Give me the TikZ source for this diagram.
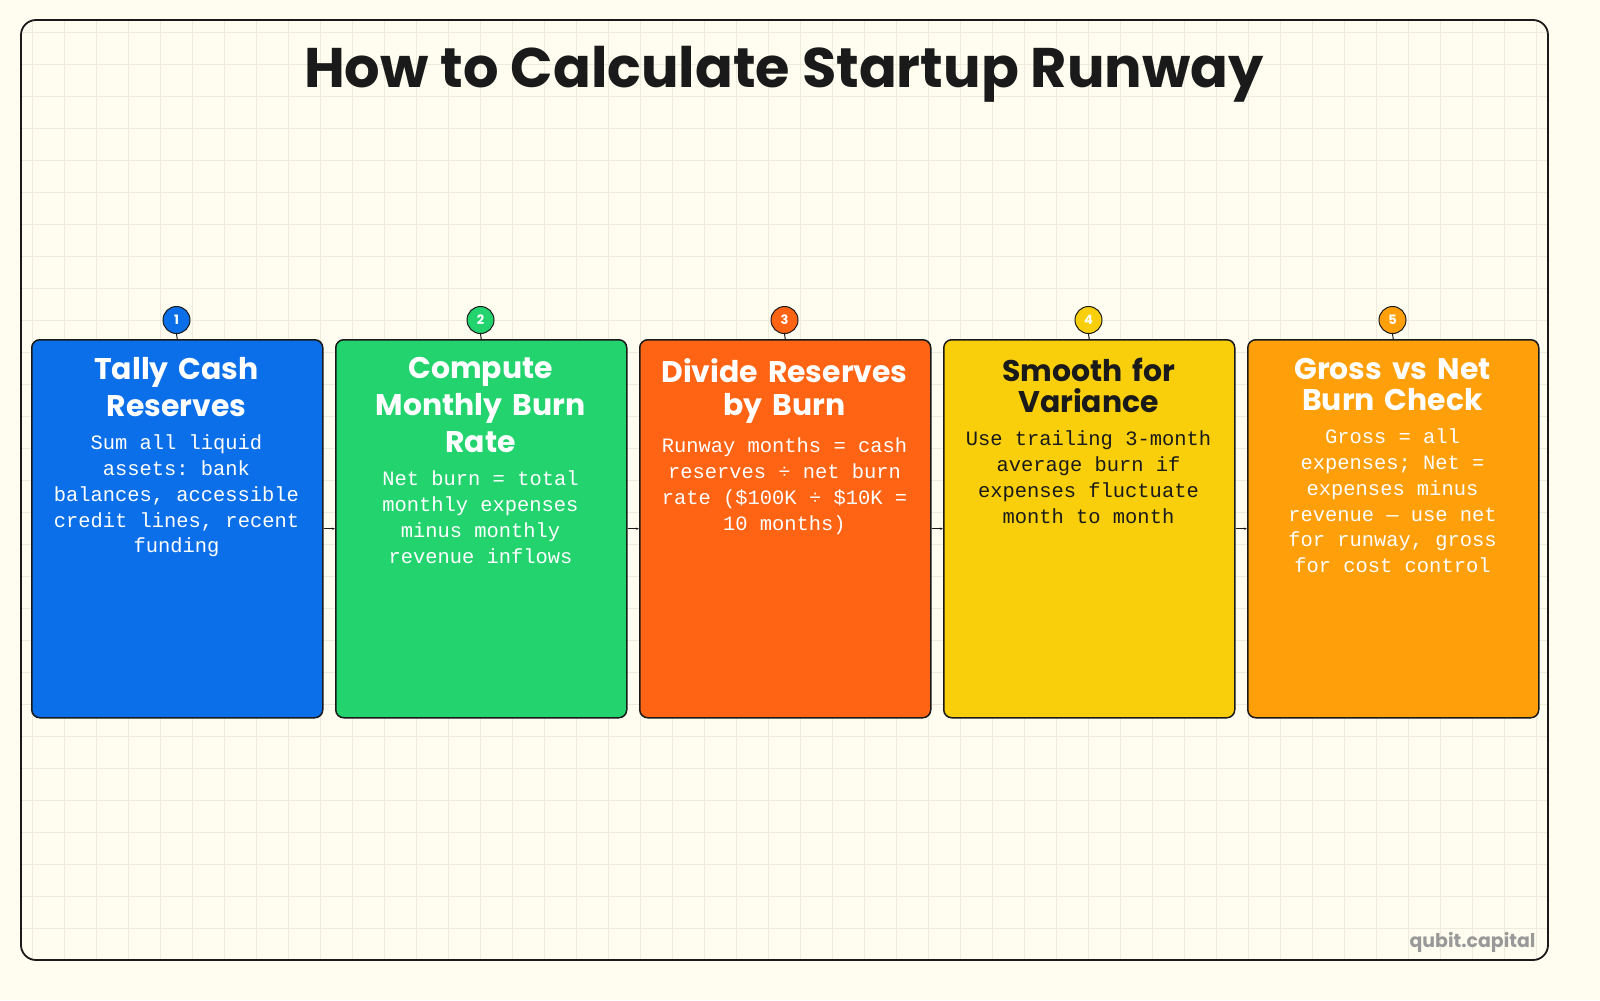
\documentclass[tikz,border=0pt]{standalone}
\usepackage{fontspec}
\setmainfont{Poppins}
\newfontfamily\monof{Liberation Mono}
\hyphenpenalty=10000 \exhyphenpenalty=10000
\usetikzlibrary{arrows.meta}
\definecolor{bg}{HTML}{FFFDF0}
\definecolor{gridc}{HTML}{EEEBDD}
\definecolor{ink}{HTML}{1A1A1A}
\definecolor{cA}{HTML}{0A6FE8}
\definecolor{cB}{HTML}{22D36E}
\definecolor{cC}{HTML}{FF6314}
\definecolor{cD}{HTML}{F8CF0A}
\definecolor{cE}{HTML}{FF9F0A}
\tikzset{
 card/.style={draw=ink,line width=1.5bp,rounded corners=8bp,minimum width=291bp,minimum height=378bp,anchor=north west},
 badge/.style={circle,draw=ink,line width=1bp,minimum size=27bp,inner sep=0pt,font=\bfseries\fontsize{13}{13}\selectfont,text=white},
 ttl/.style={anchor=north,align=center,text width=280bp,font=\bfseries\fontsize{30}{37}\selectfont},
 bod/.style={anchor=north,align=center,text width=268bp,font=\monof\fontsize{20.5}{26}\selectfont,
   execute at begin node={\spaceskip=0.6em\relax\xspaceskip=0.6em\relax}},
 conn/.style={draw=ink,line width=1bp,-{Stealth[length=3bp]}}
}
\begin{document}
\begin{tikzpicture}[x=1bp,y=-1bp]
\useasboundingbox (0,0) rectangle (1600,1000);
\fill[bg] (0,0) rectangle (1600,1000);
\foreach \g in {32,64,...,1536} \draw[gridc,line width=0.6bp] (\g,21) -- (\g,959);
\foreach \g in {32,64,...,928} \draw[gridc,line width=0.6bp] (22,\g) -- (1547,\g);
\draw[ink,line width=1.8bp,rounded corners=15bp] (21,20) rectangle (1548,960);
\node[font=\bfseries\fontsize{56}{62}\selectfont,text=ink] (title) at (784,74) {How to Calculate Startup Runway};
\node[text=gray!80,font=\bfseries\fontsize{19}{19}\selectfont,anchor=south east] (brand) at (1539,956) {qubit.capital};
\foreach \i/\x/\c/\t in {1/31/cA/white,2/335/cB/white,3/639/cC/white,4/943/cD/ink,5/1247/cE/white}{
  \node[card,fill=\c] (k\i) at (\x,339) {};
  \node[badge,fill=\c] (b\i) at (\x+145.5,320) {\i};
  \draw[ink,line width=1bp] (b\i.south) -- (k\i.north);
}
\node[ttl,text=white] (t1) at (176.5,354) {Tally Cash\\Reserves};
\node[bod,text=white] (d1) at (176.5,431) {Sum all liquid\\assets: bank\\balances, accessible\\credit lines, recent\\funding};
\node[ttl,text=white] (t2) at (480.5,354) {Compute\\Monthly Burn\\Rate};
\node[bod,text=white] (d2) at (480.5,467) {Net burn = total\\monthly expenses\\minus monthly\\revenue inflows};
\node[ttl,text=white,font=\bfseries\fontsize{30}{33}\selectfont] (t3) at (784.5,355) {Divide Reserves\\by Burn};
\node[bod,text=white] (d3) at (784.5,434) {Runway months = cash\\reserves ÷ net burn\\rate (\$100K ÷ \$10K =\\10 months)};
\node[ttl,text=ink,font=\bfseries\fontsize{30}{31}\selectfont] (t4) at (1088.5,355) {Smooth for\\Variance};
\node[bod,text=ink] (d4) at (1088.5,427) {Use trailing 3-month\\average burn if\\expenses fluctuate\\month to month};
\node[ttl,text=white,font=\bfseries\fontsize{30}{31}\selectfont] (t5) at (1392.5,355) {Gross vs Net\\Burn Check};
\node[bod,text=white] (d5) at (1392.5,425) {Gross = all\\expenses; Net =\\expenses minus\\revenue — use net\\for runway, gross\\for cost control};
\foreach \a/\b in {1/2,2/3,3/4,4/5}{
  \draw[conn] (k\a.east) -- (k\b.west);
}
\end{tikzpicture}
\end{document}
